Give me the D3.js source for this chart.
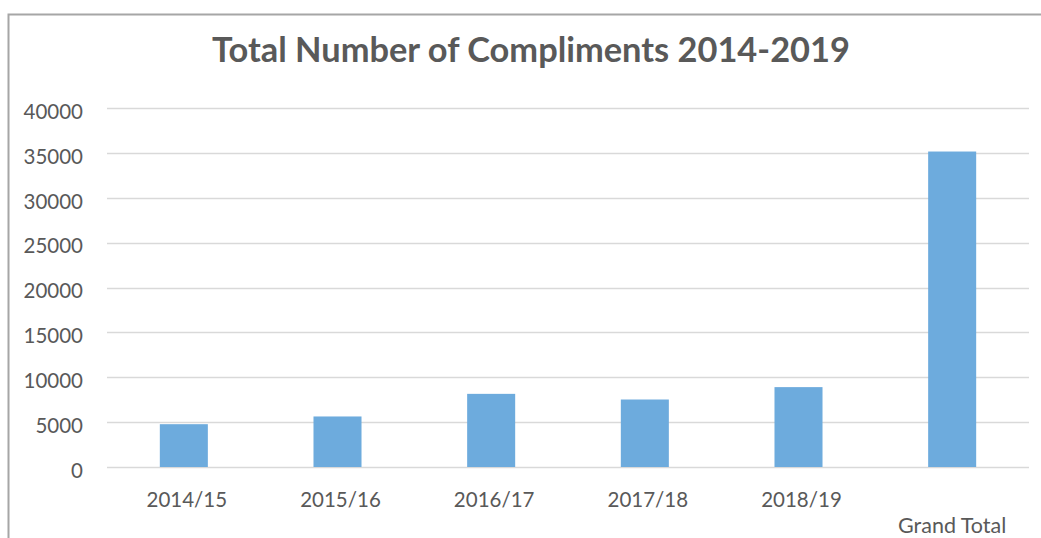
<!DOCTYPE html>
<html>
<head>
<meta charset="utf-8">
<script src="https://cdn.jsdelivr.net/npm/d3@7"></script>
<style>
  body { margin: 0; background: #fff; }
  text { font-family: Lato, "Open Sans", sans-serif; fill: #595959; }
</style>
</head>
<body>
<div id="chart"></div>
<script>
// data
var categories = ["2014/15", "2015/16", "2016/17", "2017/18", "2018/19", "\nGrand Total"];
var compliments = [4770, 5630, 8150, 7520, 8900, 35150];
var yTicks = [0, 5000, 10000, 15000, 20000, 25000, 30000, 35000, 40000];
var title = "Total Number of Compliments 2014-2019";

var W = 1041, H = 538;
var margin = {top: 108, right: 12, bottom: 71, left: 107};
var width = W - margin.left - margin.right,
    height = H - margin.top - margin.bottom;

var root = d3.select("#chart")
  .append("svg")
  .attr("width", W)
  .attr("height", H);

// chart frame (only top and left edges show in the crop)
root.append("path")
  .attr("d", "M8.5," + H + "V14.5H" + W)
  .attr("fill", "none")
  .attr("stroke", "#A6A6A6")
  .attr("stroke-width", 2);

root.append("text")
  .attr("x", 531)
  .attr("y", 62)
  .attr("text-anchor", "middle")
  .style("font-weight", "bold")
  .style("font-size", "34.4px")
  .text(title);

var svg = root.append("g")
  .attr("transform", `translate(${margin.left},${margin.top})`);

var x = d3.scaleBand()
  .domain(categories)
  .range([0, width])
  .paddingInner(0.6875)
  .paddingOuter(0.34375);

var y = d3.scaleLinear()
  .domain([0, 40000])
  .range([height, 0]);

// gridlines
svg.append("g")
  .selectAll("line")
  .data(yTicks)
  .join("line")
    .attr("x1", 0)
    .attr("x2", width)
    .attr("y1", d => Math.round(y(d)) + 0.5)
    .attr("y2", d => Math.round(y(d)) + 0.5)
    .attr("stroke", "#D9D9D9")
    .attr("stroke-width", 1.3);

// y axis labels
var yAxis = svg.append("g")
  .call(d3.axisLeft(y).tickValues(yTicks).tickSize(0).tickPadding(24).tickFormat(d3.format("d")));
yAxis.select(".domain").remove();
yAxis.selectAll("text")
  .attr("dy", "0.5em")
  .style("font-size", "20.5px")
  .style("font-family", "Lato")
  .attr("fill", "#595959");

// bars
svg.append("g")
  .selectAll("rect")
  .data(compliments)
  .join("rect")
    .attr("x", (d, i) => x(categories[i]))
    .attr("y", d => y(d))
    .attr("width", x.bandwidth())
    .attr("height", d => y(0) - y(d))
    .attr("fill", "#6DABDD");

// x axis labels
var xAxis = svg.append("g")
  .attr("transform", `translate(0,${height})`)
  .call(d3.axisBottom(x).tickSize(0).tickPadding(0));
xAxis.select(".domain").remove();
xAxis.selectAll(".tick text").each(function(d) {
  var t = d3.select(this);
  var lines = d.split("\n");
  t.text(null)
    .attr("y", 40)
    .attr("dy", 0)
    .attr("dx", 3)
    .style("font-size", "20.5px")
    .style("font-family", "Lato")
    .attr("fill", "#595959");
  lines.forEach(function(s, k) {
    t.append("tspan")
      .attr("x", 0)
      .attr("dy", k === 0 ? 0 : 26)
      .text(s === "" ? "\u00A0" : s);
  });
});
xAxis.selectAll(".tick").filter(d => d.indexOf("\n") >= 0)
  .select("text").attr("dx", 0).style("font-size", "21.5px");
</script>
</body>
</html>
